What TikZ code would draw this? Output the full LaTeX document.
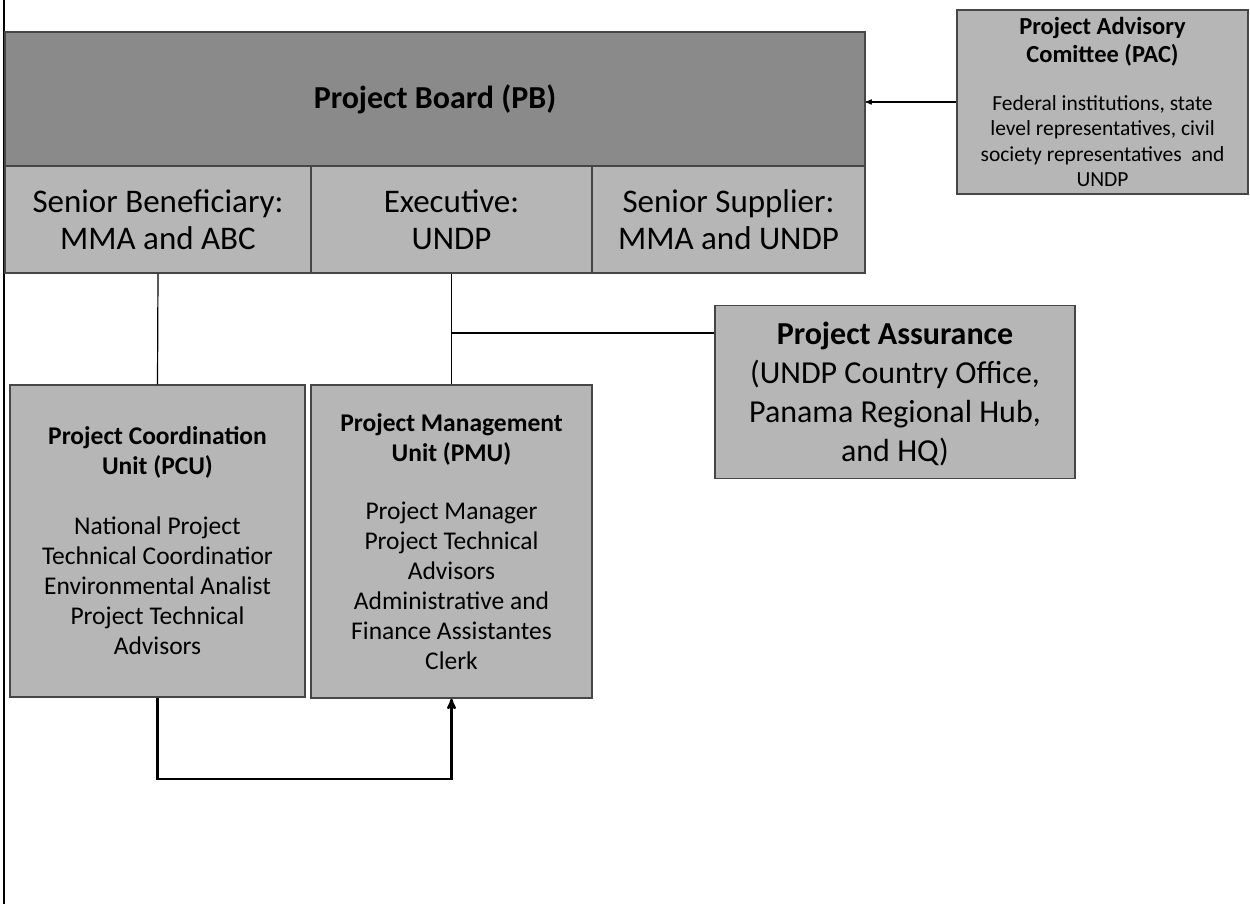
\documentclass[tikz,border=0pt]{standalone}
\usepackage{fontspec}
\setmainfont{Carlito}
\usetikzlibrary{calc}
\usetikzlibrary{arrows}
\definecolor{boarddark}{RGB}{138,138,138}
\definecolor{unitgray}{RGB}{182,182,182}
\definecolor{edgegray}{RGB}{70,70,70}

\begin{document}
\begin{tikzpicture} [x=1pt,y=-1pt,
  box/.style={draw=edgegray, line width=1.4pt, fill=unitgray, align=center, inner sep=0, anchor=center},
  link/.style={black, line width=1.2pt}]
\useasboundingbox (0,0) rectangle (1250,904);
\draw[black, line width=1.2pt] (4,0)--(4,904);
\node[box, fill=boarddark, minimum width=860, minimum height=134, font=\fontsize{32}{36}\selectfont\bfseries] (pb) at (435,99) {Project Board (PB)};
\node[box, minimum width=306, minimum height=107, font=\fontsize{33}{37}\selectfont] (sb) at (158,219.5) {Senior Beneficiary:\\MMA and ABC};
\node[box, minimum width=281, minimum height=107, font=\fontsize{33}{37}\selectfont] (ex) at (451.5,219.5) {Executive:\\UNDP};
\node[box, minimum width=273, minimum height=107, font=\fontsize{33}{37}\selectfont] (ss) at (728.5,219.5) {Senior Supplier:\\MMA and UNDP};
\node[box, minimum width=291, minimum height=184, font=\fontsize{21.5}{25.5}\selectfont] (pac) at (1102.5,102) {\textbf{\fontsize{24.5}{29}\selectfont Project Advisory}\\[3pt]\textbf{\fontsize{24.5}{29}\selectfont Comittee (PAC)}\\[22pt]Federal institutions, state\\level representatives, civil\\society representatives~~and\\UNDP};
\node[box, minimum width=360, minimum height=173, text depth=-1pt, font=\fontsize{32}{39}\selectfont] (pa) at (895,392) {\textbf{Project Assurance}\\(UNDP Country Office,\\Panama Regional Hub,\\and HQ)};
\node[box, minimum width=295, minimum height=312, font=\fontsize{25.5}{30}\selectfont] (pcu) at (157.5,541) {\textbf{Project Coordination}\\\textbf{Unit (PCU)}\\[30pt]National Project\\Technical Coordinatior\\Environmental Analist\\Project Technical\\Advisors};
\node[box, minimum width=281, minimum height=313, font=\fontsize{25.5}{30}\selectfont] (pmu) at (451.5,541.5) {\textbf{Project Management}\\\textbf{Unit (PMU)}\\[28pt]Project Manager\\Project Technical\\Advisors\\Administrative and\\Finance Assistantes\\Clerk};
\coordinate (tap) at (451.5,333);
\draw[link] (sb.south)--(pcu.north);
\draw[link] (ex.south)--(pmu.north);
\draw[link] (tap)--(tap -| pa.west);
\draw[link, ->, >=stealth'] (pac.west)--(pac.west -| pb.east);
\draw[black, line width=2.4pt, ->, >=stealth'] (pcu.south)--++(0,81) -| (pmu.south);
\end{tikzpicture}
\end{document}
